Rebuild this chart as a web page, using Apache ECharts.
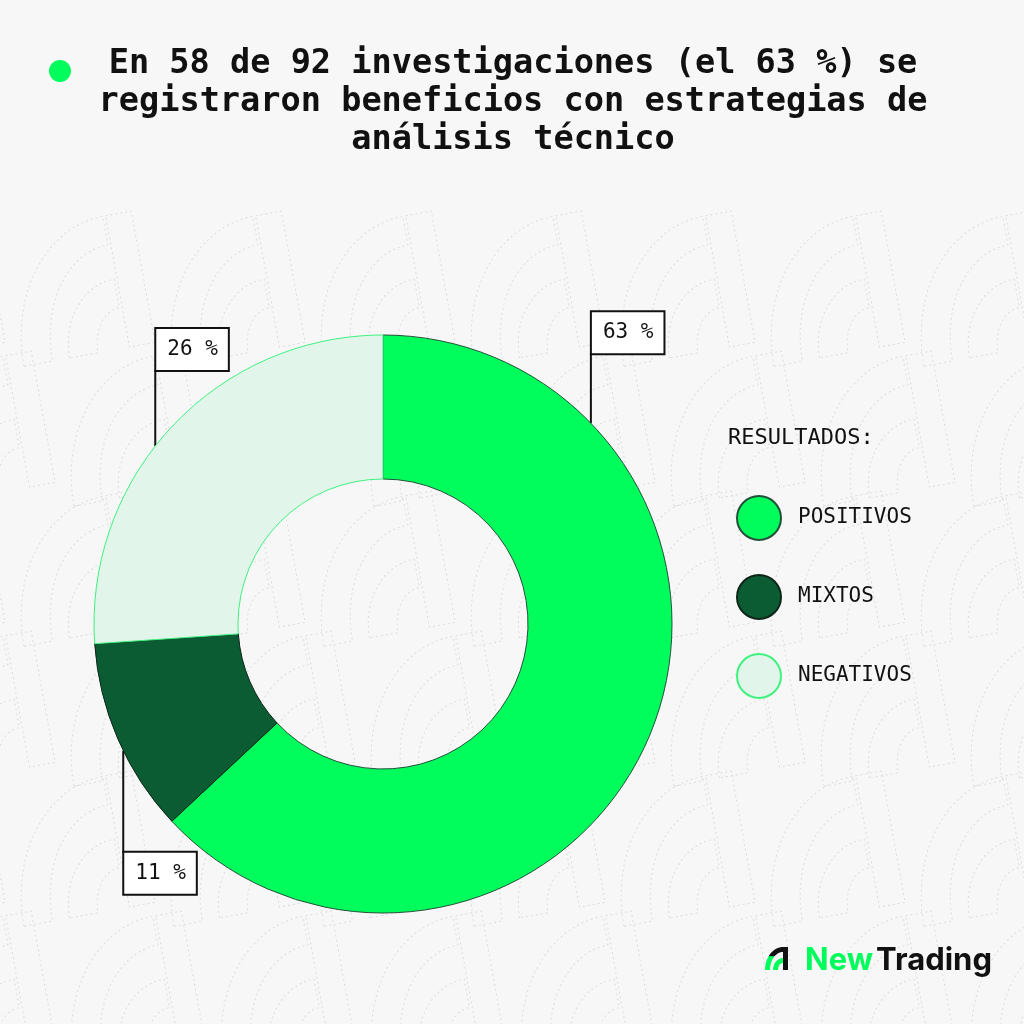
<!DOCTYPE html>
<html>
<head>
<meta charset="utf-8">
<script src="https://cdn.jsdelivr.net/npm/echarts@6/dist/echarts.min.js"></script>
<style>
html,body{margin:0;padding:0;background:#f7f7f7;}
#chart{width:1024px;height:1024px;}
</style>
</head>
<body>
<div id="chart"></div>
<script>
// ---- data ----
const categories = ['POSITIVOS', 'MIXTOS', 'NEGATIVOS'];
const studyCounts = [58, 10, 24];          // of 92 studies -> 63 %, 11 %, 26 %
const titleLines = [
  'En 58 de 92 investigaciones (el 63 %) se',
  'registraron beneficios con estrategias de',
  'análisis técnico'
];
const legendTitle = 'RESULTADOS:';

// ---- styles ----
const colors = ['#00fd5c', '#0b5c33', '#e2f5ea'];
const borderColors = ['#24503a', '#0d2618', '#3ff27f'];
const MONO = '"DejaVu Sans Mono", "Liberation Mono", monospace';
const CX = 383, CY = 624, R_IN = 145, R_OUT = 289;
// label anchor angle on the ring (deg clockwise from 12 o'clock) and guide-line length
const labelAnchorDeg = [46, 244, 308];
const labelLineLen = [70, 102, 76];

// quarter elliptical band (upper-left quadrant) around (cx,cy) as polygon points
function band(cx, cy, rxo, ryo, rxi, ryi, s) {
  const pts = [];
  const n = 16;
  for (let k = 0; k <= n; k++) {
    const t = Math.PI + (Math.PI / 2) * k / n;
    pts.push([(cx + rxo * Math.cos(t)) * s, (cy + ryo * Math.sin(t)) * s]);
  }
  for (let k = n; k >= 0; k--) {
    const t = Math.PI + (Math.PI / 2) * k / n;
    pts.push([(cx + rxi * Math.cos(t)) * s, (cy + ryi * Math.sin(t)) * s]);
  }
  return pts;
}

// faint dashed background pattern (logo outlines)
const pattern = [];
const PS = 5.8;
for (let row = 0; row < 6; row++) {
  for (let col = -1; col < 8; col++) {
    const x = col * 150 + (row % 2) * 50;
    const y = 235 + row * 140;
    const st = {fill: null, stroke: '#dcdcdc', lineWidth: 1, lineDash: [2, 3]};
    pattern.push({type: 'polygon', x, y, rotation: 0.18, silent: true,
      shape: {points: band(18, 23, 18, 23, 13, 18, PS)}, style: st});
    pattern.push({type: 'polygon', x, y, rotation: 0.18, silent: true,
      shape: {points: band(18, 23, 10, 12, 5, 7, PS)}, style: st});
    pattern.push({type: 'polygon', x, y, rotation: 0.18, silent: true,
      shape: {points: [[18.5 * PS, 0], [23 * PS, 0], [23 * PS, 23 * PS], [18.5 * PS, 23 * PS]]}, style: st});
  }
}

const chart = echarts.init(document.getElementById('chart'), null, {renderer: 'canvas'});

const seriesData = categories.map((name, i) => ({
  name,
  value: studyCounts[i],
  itemStyle: {color: colors[i], borderColor: borderColors[i], borderWidth: 1}
}));

chart.setOption({
  backgroundColor: '#f7f7f7',
  animation: false,
  legend: {
    orient: 'vertical',
    left: 731,
    top: 490,
    icon: 'circle',
    itemWidth: 44,
    itemHeight: 44,
    itemGap: 33,
    selectedMode: false,
    data: categories,
    textStyle: {fontFamily: MONO, fontSize: 21, color: '#111', padding: [0, 0, 0, 12]}
  },
  graphic: [
    {type: 'group', z: -10, silent: true, children: pattern},
    {type: 'rect', z: -9, silent: true, shape: {x: 0, y: 0, width: 1024, height: 240},
      style: {fill: {type: 'linear', x: 0, y: 0, x2: 0, y2: 1, global: false,
        colorStops: [{offset: 0, color: '#f7f7f7'}, {offset: 0.8, color: '#f7f7f7'}, {offset: 1, color: 'rgba(247,247,247,0)'}]}}},
    {type: 'circle', shape: {cx: 60, cy: 71, r: 11}, style: {fill: '#00fd5c'}},
    {type: 'text', x: 513, y: 45, style: {
      text: titleLines.join('\n'), align: 'center', verticalAlign: 'top',
      fontFamily: MONO, fontWeight: 'bold', fontSize: 33.6, lineHeight: 38, fill: '#111'
    }},
    {type: 'text', x: 728, y: 438, style: {
      text: legendTitle, align: 'left', verticalAlign: 'middle',
      fontFamily: MONO, fontSize: 22, fill: '#111'
    }},
    // logo icon
    {type: 'polygon', x: 765, y: 947, shape: {points: band(18, 23, 18, 23, 13, 18, 1)},
      style: {fill: {type: 'linear', x: 0, y: 0, x2: 0, y2: 1, global: false,
        colorStops: [{offset: 0, color: '#111'}, {offset: 0.38, color: '#111'}, {offset: 0.42, color: '#00fd5c'}, {offset: 1, color: '#00fd5c'}]}}},
    {type: 'polygon', x: 765, y: 947, shape: {points: band(18, 23, 10, 12, 5, 7, 1)},
      style: {fill: '#00fd5c'}},
    {type: 'rect', shape: {x: 783, y: 947, width: 5, height: 23}, style: {fill: '#111'}},
    {type: 'text', x: 805, y: 961, style: {
      text: '{g|New}{b|Trading}', verticalAlign: 'middle', align: 'left',
      rich: {
        g: {fontFamily: 'Inter', fontWeight: 700, fontSize: 31, fill: '#00fd5c', color: '#00fd5c'},
        b: {fontFamily: 'Inter', fontWeight: 700, fontSize: 31, fill: '#111', color: '#111', padding: [0, 0, 0, 3]}
      }
    }}
  ],
  series: [{
    type: 'pie',
    center: [CX, CY],
    radius: [R_IN, R_OUT],
    startAngle: 90,
    clockwise: true,
    avoidLabelOverlap: false,
    percentPrecision: 0,
    data: seriesData,
    emphasis: {disabled: true},
    label: {
      show: true,
      position: 'outside',
      formatter: '{d} %',
      fontFamily: MONO,
      fontSize: 21,
      lineHeight: 21,
      color: '#111',
      backgroundColor: '#ffffff',
      borderColor: '#111',
      borderWidth: 2,
      padding: [10, 10, 10, 11]
    },
    labelLine: {show: true, lineStyle: {color: '#111', width: 2}},
    labelLayout: function (p) {
      const i = p.dataIndex;
      const a = labelAnchorDeg[i] * Math.PI / 180;
      const px = CX + R_OUT * Math.sin(a);
      const py = CY - R_OUT * Math.cos(a);
      const upper = Math.cos(a) > 0;
      const ly = upper ? py - labelLineLen[i] : py + labelLineLen[i];
      return {
        x: px + 1, y: ly,
        align: 'left',
        verticalAlign: upper ? 'bottom' : 'top',
        labelLinePoints: [[px, py], [px, (py + ly) / 2], [px, ly]]
      };
    }
  }]
});
</script>
</body>
</html>
